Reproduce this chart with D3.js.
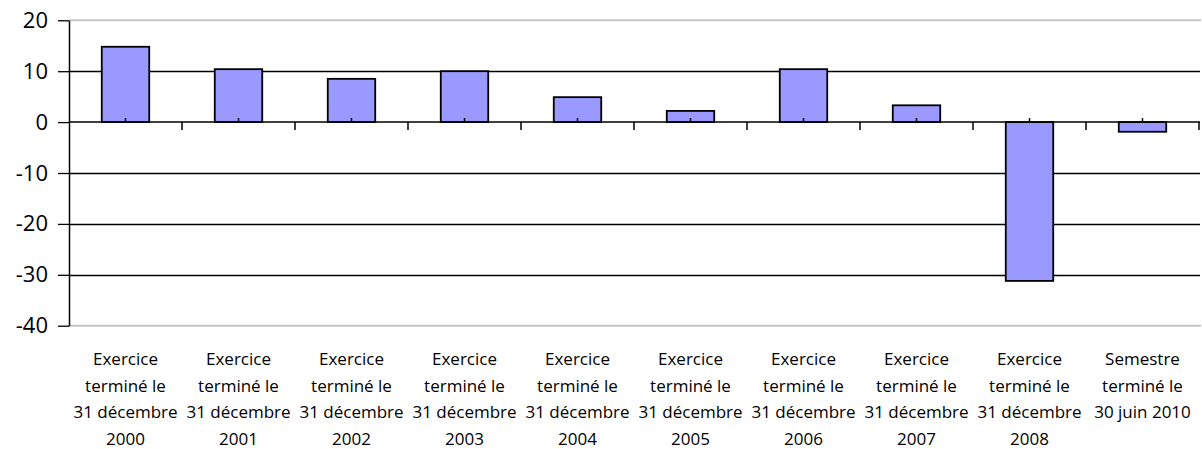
<!DOCTYPE html>
<html>
<head>
<meta charset="utf-8">
<script src="https://cdn.jsdelivr.net/npm/d3@7"></script>
<style>
  body { margin: 0; background: #fff; }
  text { font-family: "Open Sans", sans-serif; fill: #000; }
</style>
</head>
<body>
<div id="chart"></div>
<script>
// categories (one array of lines per bar)
const categories = [
  ["Exercice", "terminé le", "31 décembre", "2000"],
  ["Exercice", "terminé le", "31 décembre", "2001"],
  ["Exercice", "terminé le", "31 décembre", "2002"],
  ["Exercice", "terminé le", "31 décembre", "2003"],
  ["Exercice", "terminé le", "31 décembre", "2004"],
  ["Exercice", "terminé le", "31 décembre", "2005"],
  ["Exercice", "terminé le", "31 décembre", "2006"],
  ["Exercice", "terminé le", "31 décembre", "2007"],
  ["Exercice", "terminé le", "31 décembre", "2008"],
  ["Semestre", "terminé le", "30 juin 2010"]
]
const values = [14.8, 10.4, 8.5, 10.0, 4.9, 2.2, 10.4, 3.3, -31.2, -1.9]
const yTicks = [-40, -30, -20, -10, 0, 10, 20]

const WIDTH = 1202, HEIGHT = 449
const PLOT = { LEFT: 69, RIGHT: 1199, TOP: 20.3, BOTTOM: 325.7 }

const svg = d3.select("#chart").append("svg")
    .attr("width", WIDTH)
    .attr("height", HEIGHT)

const x = d3.scaleBand()
    .domain(d3.range(categories.length))
    .range([PLOT.LEFT, PLOT.RIGHT])
    .padding(0)

const y = d3.scaleLinear()
    .domain([-40, 20])
    .range([PLOT.BOTTOM, PLOT.TOP])

const barW = x.bandwidth() * 0.42

// plot area border top / bottom (light grey)
svg.selectAll("line.border")
    .data([20, -40])
    .enter().append("line")
    .attr("x1", PLOT.LEFT).attr("x2", PLOT.RIGHT + 2)
    .attr("y1", d => y(d)).attr("y2", d => y(d))
    .attr("stroke", "#c4c4c4")
    .attr("stroke-width", 2)

// gridlines
svg.selectAll("line.grid")
    .data(yTicks.filter(d => d !== 20 && d !== -40 && d !== 0))
    .enter().append("line")
    .attr("x1", PLOT.LEFT).attr("x2", PLOT.RIGHT + 1)
    .attr("y1", d => Math.round(y(d)) + 0.5).attr("y2", d => Math.round(y(d)) + 0.5)
    .attr("stroke", "#000")
    .attr("stroke-width", 1.3)

// bars
svg.selectAll("rect.bar")
    .data(values)
    .enter().append("rect")
    .attr("x", (d, i) => x(i) + (x.bandwidth() - barW) / 2)
    .attr("y", d => y(Math.max(0, d)))
    .attr("width", barW)
    .attr("height", d => Math.abs(y(d) - y(0)))
    .attr("fill", "#9999ff")
    .attr("stroke", "#000")
    .attr("stroke-width", 1.8)

// y axis
const yAxis = svg.append("g")
    .attr("transform", `translate(${PLOT.LEFT},0)`)
    .call(d3.axisLeft(y).tickValues(yTicks).tickSize(11).tickSizeOuter(0).tickPadding(10)
        .tickFormat(d => String(d)))
yAxis.select(".domain").attr("stroke", "#000").attr("stroke-width", 1.5)
yAxis.selectAll(".tick line").attr("stroke", "#000").attr("stroke-width", 1.3)
yAxis.selectAll(".tick text")
    .style("font-family", "'Open Sans', sans-serif")
    .style("font-size", "22px")
    .attr("fill", "#000")

// zero axis line
svg.append("line")
    .attr("x1", PLOT.LEFT).attr("x2", PLOT.RIGHT + 1)
    .attr("y1", y(0)).attr("y2", y(0))
    .attr("stroke", "#000")
    .attr("stroke-width", 1.5)

// category boundary ticks (down) and center ticks (up)
svg.selectAll("line.bound")
    .data(values)
    .enter().append("line")
    .attr("x1", (d, i) => x(i) + x.bandwidth()).attr("x2", (d, i) => x(i) + x.bandwidth())
    .attr("y1", y(0)).attr("y2", y(0) + 8)
    .attr("stroke", "#000").attr("stroke-width", 1.5)

svg.selectAll("line.center")
    .data(values)
    .enter().append("line")
    .attr("x1", (d, i) => x(i) + x.bandwidth() / 2).attr("x2", (d, i) => x(i) + x.bandwidth() / 2)
    .attr("y1", y(0)).attr("y2", y(0) - 4)
    .attr("stroke", "#000").attr("stroke-width", 1.5)

// category labels
const labels = svg.selectAll("text.cat")
    .data(categories)
    .enter().append("text")
    .attr("class", "cat")
    .attr("text-anchor", "middle")
    .style("font-size", "17px")

labels.selectAll("tspan")
    .data((d, i) => d.map(line => ({ line, i })))
    .enter().append("tspan")
    .attr("x", d => x(d.i) + x.bandwidth() / 2)
    .attr("y", (d, j) => 365 + j * 26.7)
    .text(d => d.line)
</script>
</body>
</html>
